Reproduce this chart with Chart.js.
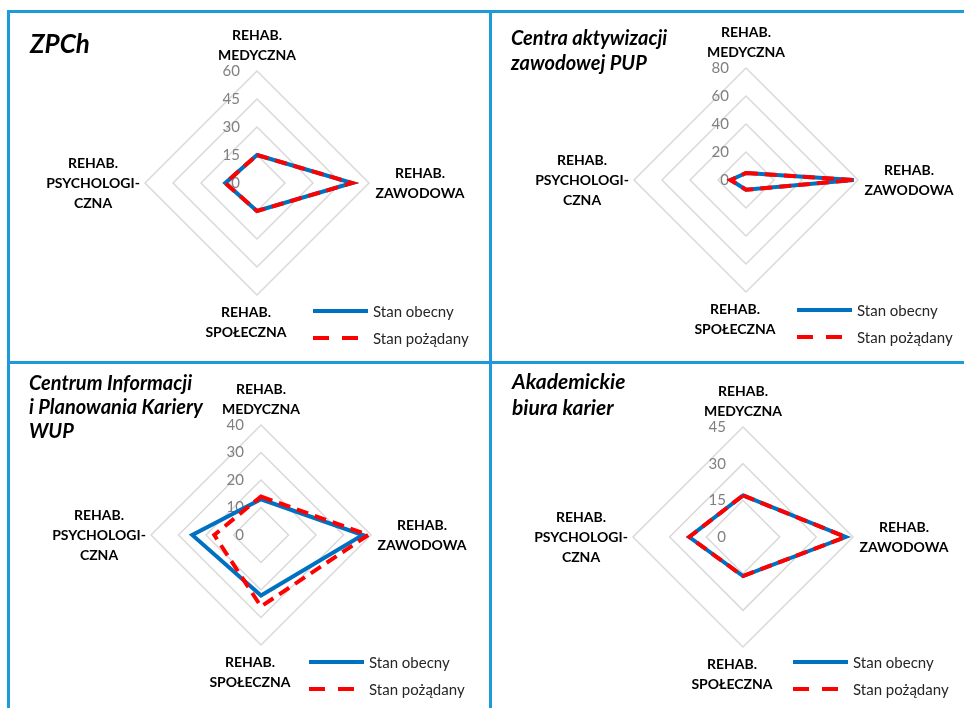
<!DOCTYPE html>
<html lang="pl">
<head>
<meta charset="utf-8">
<title>Rehabilitacja – stan obecny i pożądany</title>
<script src="https://cdn.jsdelivr.net/npm/chart.js@4.4.1/dist/chart.umd.min.js"></script>
<style>
  html, body { margin: 0; padding: 0; background: #fff; }
  #page { position: relative; width: 964px; height: 708px; overflow: hidden; }
  #page canvas { position: absolute; left: 0; top: 0; }
  .rule { position: absolute; background: #1e9ad8; }
</style>
</head>
<body>
<div id="page">
  <div class="rule" style="left:7px;top:10px;width:957px;height:3px"></div>
  <div class="rule" style="left:7px;top:361px;width:957px;height:3px"></div>
  <div class="rule" style="left:7px;top:10px;width:3px;height:698px"></div>
  <div class="rule" style="left:489px;top:10px;width:3px;height:698px"></div>
  <canvas id="c0" width="964" height="708"></canvas>
  <canvas id="c1" width="964" height="708"></canvas>
  <canvas id="c2" width="964" height="708"></canvas>
  <canvas id="c3" width="964" height="708"></canvas>
</div>
<script>
// axes of the radar (multi-line labels)
const categories = [
  ['REHAB.', 'MEDYCZNA'],
  ['REHAB.', 'ZAWODOWA'],
  ['REHAB.', 'SPOŁECZNA'],
  ['REHAB.', 'PSYCHOLOGI-', 'CZNA']
];
const seriesNames = ['Stan obecny', 'Stan pożądany'];

const zpchObecny   = [15, 51, 15, 17];
const zpchPozadany = [15, 51, 15, 17];
const pupObecny    = [5, 77, 7, 11];
const pupPozadany  = [5, 77, 7, 11];
const wupObecny    = [13, 37, 22, 25];
const wupPozadany  = [14, 39, 26, 17];
const abkObecny    = [17, 42, 16, 22];
const abkPozadany  = [17, 42, 16, 22];

const axisMax  = [60, 80, 40, 45];
const axisStep = [15, 20, 10, 15];

const titles = [
  ['ZPCh'],
  ['Centra aktywizacji', 'zawodowej PUP'],
  ['Centrum Informacji', 'i Planowania Kariery', 'WUP'],
  ['Akademickie', 'biura karier']
];

const values = [
  [zpchObecny, zpchPozadany],
  [pupObecny, pupPozadany],
  [wupObecny, wupPozadany],
  [abkObecny, abkPozadany]
];

// where each panel sits on the page
const panels = [
  { cx: 257, cy: 183, r: 112, title: { x: 30,  y: 53,  size: 26, lh: 25 }, legend: { x: 313, y: 311 } },
  { cx: 746, cy: 180, r: 112, title: { x: 511, y: 45,  size: 20, lh: 25 }, legend: { x: 797, y: 310 } },
  { cx: 261, cy: 535, r: 110, title: { x: 29,  y: 390, size: 20, lh: 24 }, legend: { x: 309, y: 662 } },
  { cx: 743, cy: 537, r: 110, title: { x: 512, y: 389, size: 21, lh: 26 }, legend: { x: 793, y: 662 } }
];

const FONT = 'Lato, "Open Sans", sans-serif';
const BLUE = '#0070c0';
const RED = '#ff0000';

// offsets of the axis captions from the outer vertex
const labelOffsets = [
  { dx: 0,   dy: -16, anchor: 'bottom' },
  { dx: 51,  dy: 0,   anchor: 'middle' },
  { dx: -11, dy: 17,  anchor: 'top' },
  { dx: -52, dy: 0,   anchor: 'middle' }
];

const panelDecor = {
  id: 'panelDecor',
  beforeDatasetsDraw(chart) {
    const ctx = chart.ctx;
    const scale = chart.scales.r;
    ctx.save();
    ctx.font = '15px ' + FONT;
    ctx.fillStyle = '#808080';
    ctx.textAlign = 'right';
    ctx.textBaseline = 'middle';
    scale.ticks.forEach(t => {
      const d = scale.getDistanceFromCenterForValue(t.value);
      ctx.fillText(t.label, scale.xCenter - 17, scale.yCenter - d);
    });
    ctx.restore();
  },
  afterDraw(chart, args, opts) {
    const ctx = chart.ctx;
    const scale = chart.scales.r;
    ctx.save();

    // axis captions
    ctx.font = 'bold 14px ' + FONT;
    ctx.fillStyle = '#000';
    ctx.textAlign = 'center';
    ctx.textBaseline = 'middle';
    chart.data.labels.forEach((lines, i) => {
      const p = scale.getPointPositionForValue(i, scale.max);
      const o = labelOffsets[i];
      const lh = 20;
      let y0;
      if (o.anchor === 'bottom') y0 = p.y + o.dy - lh * (lines.length - 1);
      else if (o.anchor === 'top') y0 = p.y + o.dy;
      else y0 = p.y + o.dy - lh * (lines.length - 1) / 2;
      lines.forEach((s, k) => ctx.fillText(s, p.x + o.dx, y0 + k * lh));
    });

    // title
    const t = opts.title;
    ctx.font = 'italic bold ' + t.size + 'px ' + FONT;
    ctx.textAlign = 'left';
    ctx.textBaseline = 'alphabetic';
    opts.titleLines.forEach((s, k) => ctx.fillText(s, t.x, t.y + k * t.lh));

    // legend
    const lg = opts.legend;
    ctx.font = '15px ' + FONT;
    ctx.textBaseline = 'middle';
    chart.data.datasets.forEach((ds, k) => {
      const y = lg.y + k * 27;
      ctx.beginPath();
      ctx.lineWidth = 4;
      ctx.strokeStyle = ds.borderColor;
      ctx.setLineDash(ds.borderDash ? [16, 13] : []);
      ctx.moveTo(lg.x, y);
      ctx.lineTo(lg.x + (ds.borderDash ? 45 : 55), y);
      ctx.stroke();
      ctx.setLineDash([]);
      ctx.fillStyle = '#262626';
      ctx.fillText(ds.label, lg.x + 60, y + 1);
    });
    ctx.restore();
  }
};

panels.forEach((pn, i) => {
  const left = pn.cx - pn.r;
  const top = pn.cy - pn.r;
  const side = 2 * pn.r + 1;
  new Chart(document.getElementById('c' + i), {
    type: 'radar',
    data: {
      labels: categories,
      datasets: [
        {
          label: seriesNames[0],
          data: values[i][0],
          borderColor: BLUE,
          borderWidth: 4,
          fill: false,
          order: 1
        },
        {
          label: seriesNames[1],
          data: values[i][1],
          borderColor: RED,
          borderWidth: 4,
          borderDash: [12, 7],
          fill: false,
          order: 0
        }
      ]
    },
    options: {
      responsive: false,
      animation: false,
      events: [],
      layout: {
        padding: { left: left, top: top, right: 964 - left - side, bottom: 708 - top - side }
      },
      elements: {
        line: { tension: 0 },
        point: { radius: 0 }
      },
      scales: {
        r: {
          min: 0,
          max: axisMax[i],
          ticks: { display: false, stepSize: axisStep[i] },
          pointLabels: { display: false },
          angleLines: { display: false },
          grid: { color: '#d9d9d9', lineWidth: 1.5 }
        }
      },
      plugins: {
        legend: { display: false },
        tooltip: { enabled: false },
        panelDecor: { title: pn.title, titleLines: titles[i], legend: pn.legend }
      }
    },
    plugins: [panelDecor]
  });
});
</script>
</body>
</html>
